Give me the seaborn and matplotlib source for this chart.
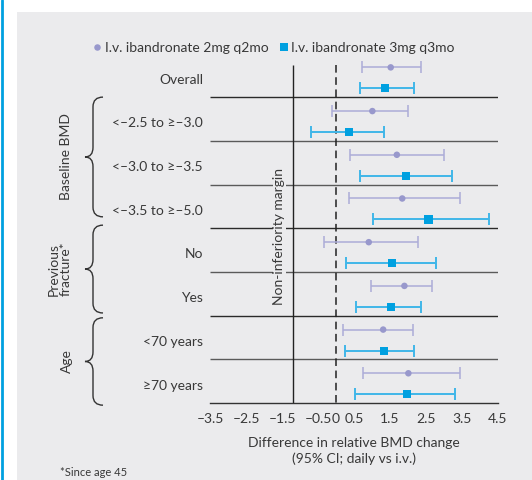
import numpy as np
import pandas as pd
import matplotlib
matplotlib.use("Agg")
import matplotlib.pyplot as plt
import seaborn as sns
from matplotlib.path import Path
from matplotlib.patches import PathPatch, Rectangle
from matplotlib.lines import Line2D
from matplotlib.transforms import blended_transform_factory

# subgroup rows, top to bottom
subgroups = ["Overall", "<–2.5 to ≥–3.0", "<–3.0 to ≥–3.5", "<–3.5 to ≥–5.0",
             "No", "Yes", "<70 years", "≥70 years"]
series = ["I.v. ibandronate 2mg q2mo", "I.v. ibandronate 3mg q3mo"]

est_2mg = [1.52, 1.01, 1.69, 1.84, 0.91, 1.90, 1.31, 2.01]
lo_2mg = [0.71, -0.10, 0.40, 0.35, -0.34, 0.98, 0.19, 0.76]
hi_2mg = [2.36, 2.01, 3.00, 3.45, 2.29, 2.68, 2.15, 3.44]

est_3mg = [1.37, 0.37, 1.95, 2.57, 1.56, 1.54, 1.34, 1.98]
lo_3mg = [0.67, -0.69, 0.67, 1.02, 0.29, 0.56, 0.24, 0.52]
hi_3mg = [2.17, 1.34, 3.21, 4.24, 2.78, 2.37, 2.17, 3.30]

# bracketed sections: label, first row, last row
sections = [("Baseline BMD", 1, 3), ("Previous\nfracture*", 4, 5), ("Age", 6, 7)]

xticks = [-3.5, -2.5, -1.5, -0.5, 0, 0.5, 1.5, 2.5, 3.5, 4.5]
margin = -1.2

BG = "#ebebed"
TXT = "#383838"
C2 = "#9898cc"
C2_BAR = "#acacd8"
C3 = "#00a0e0"
C3_BAR = "#40b6e8"

sns.set_style("white")
plt.rcParams["font.family"] = ["Lato", "DejaVu Sans"]
plt.rcParams["text.color"] = TXT

n = len(subgroups)
rows = np.arange(n)
df = pd.DataFrame({
    "series": [series[0]] * n + [series[1]] * n,
    "est": est_2mg + est_3mg,
    "lo": lo_2mg + lo_3mg,
    "hi": hi_2mg + hi_3mg,
    "y": list(rows + 0.32) + list(rows + 0.80),
})

fig = plt.figure(figsize=(5.32, 4.8), dpi=100, facecolor="white")
fig.patches.append(Rectangle((17 / 532, 0), 1, 1 - 12 / 480, transform=fig.transFigure,
                             facecolor=BG, edgecolor="none", zorder=-10))
fig.add_artist(Line2D([2 / 532, 2 / 532], [0, 1], transform=fig.transFigure,
                      color=C3, lw=2))

ax = fig.add_axes([210 / 532, 1 - 403 / 480, 288 / 532, 349.6 / 480])
ax.set_facecolor("none")

# separators between rows
for k in range(1, n):
    col = "#2a2a2a" if k in (1, 4, 6) else "#5a5a5a"
    ax.hlines(k, -3.5, 4.5, color=col, lw=1, zorder=1)

ax.vlines(margin, 0.27, n, color="#222222", lw=1, zorder=2)
ax.vlines(0, 0.27, n, color="#222222", lw=1.1, linestyles=(0, (5, 3)), zorder=2)
ax.text(-1.57, 4.2, "Non-inferiority margin", rotation=90, ha="center", va="center",
        fontsize=10, color=TXT, zorder=3,
        bbox=dict(facecolor=BG, edgecolor="none", pad=0.5))

# confidence intervals
for name, bc, lw in [(series[0], C2_BAR, 1.1), (series[1], C3_BAR, 1.4)]:
    d = df[df["series"] == name]
    ax.errorbar(d["est"], d["y"], xerr=[d["est"] - d["lo"], d["hi"] - d["est"]],
                fmt="none", ecolor=bc, elinewidth=lw, capsize=4.5, capthick=lw, zorder=4)

sns.scatterplot(data=df, x="est", y="y", hue="series", style="series",
                palette=[C2, C3], markers=["o", "s"], size="series", sizes=[22, 34],
                edgecolor="none", linewidth=0, ax=ax, zorder=5)

ax.set_xlim(-3.5, 4.5)
ax.set_ylim(n, 0)
ax.set_xticks(xticks)
ax.set_xticklabels([("–" + f"{abs(t):g}") if t < 0 else f"{t:g}" for t in xticks])
ax.set_yticks([])
for s in ["top", "right", "left"]:
    ax.spines[s].set_visible(False)
ax.spines["bottom"].set_color("#333333")
ax.spines["bottom"].set_linewidth(1)
ax.tick_params(axis="x", direction="out", length=3, width=1, color="#333333",
               labelsize=10, labelcolor=TXT, pad=4)
ax.set_xlabel("Difference in relative BMD change\n(95% CI; daily vs i.v.)",
              fontsize=10, color=TXT, labelpad=9, linespacing=1.3)
ax.set_ylabel("")

# row labels
tr = blended_transform_factory(ax.transAxes, ax.transData)
for i, lab in enumerate(subgroups):
    ax.text(-0.024, i + 0.6, lab, transform=tr, ha="right", va="center",
            fontsize=10, color=TXT)

# section braces and labels
ftr = blended_transform_factory(fig.transFigure, ax.transData)
x_end, x_body, x_tip = 103 / 532, 93 / 532, 85 / 532
brace_spans = [(1.0, 3.74), (3.93, 5.94), (6.05, 8.05)]
label_x = [66, 60, 67]
for (lab, a, b), (y0, y1), lx in zip(sections, brace_spans, label_x):
    ym = (y0 + y1) / 2
    r = 0.22
    verts = [(x_end, y0), (x_body, y0), (x_body, y0 + r),
             (x_body, ym - r), (x_body, ym), (x_tip, ym),
             (x_body, ym), (x_body, ym + r),
             (x_body, y1 - r), (x_body, y1), (x_end, y1)]
    codes = [Path.MOVETO, Path.CURVE3, Path.CURVE3,
             Path.LINETO, Path.CURVE3, Path.CURVE3,
             Path.CURVE3, Path.CURVE3,
             Path.LINETO, Path.CURVE3, Path.CURVE3]
    fig.add_artist(PathPatch(Path(verts, codes), transform=ftr, facecolor="none",
                             edgecolor="#333333", lw=1))
    fig.text(lx / 532, 0, lab, transform=ftr, rotation=90, ha="center", va="center",
             fontsize=10, color=TXT, linespacing=1.0).set_y(ym)

sns.move_legend(ax, "center left", bbox_to_anchor=(90 / 532, 1 - 47.7 / 480),
                bbox_transform=fig.transFigure, ncol=2, frameon=False, title=None,
                fontsize=10, handletextpad=0.05, columnspacing=0.6, handlelength=1.0,
                borderpad=0, borderaxespad=0, labelcolor=TXT)

fig.text(60 / 532, 1 - 472 / 480, "*Since age 45", fontsize=8, color=TXT,
         ha="left", va="center")

fig.savefig("out.png", dpi=100, facecolor="white")
